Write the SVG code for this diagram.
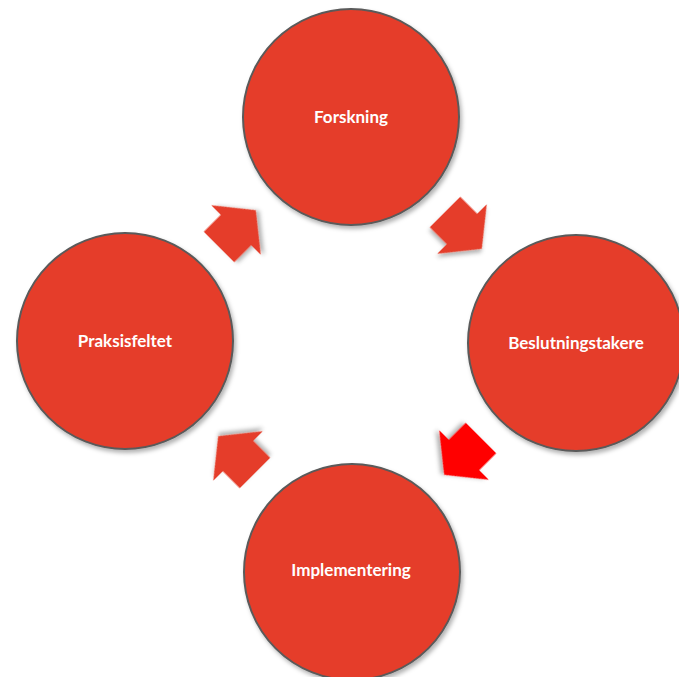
<svg xmlns="http://www.w3.org/2000/svg" width="679" height="677" viewBox="0 0 679 677">
<style>
.node{fill:#E53E2A;stroke:#5a5a5a;stroke-width:2}
.lbl{fill:#ffffff;font-family:Lato,"Open Sans","Liberation Sans",sans-serif;font-weight:bold;font-size:17px;text-anchor:middle}
.arr{fill:#E53E2A}
</style>
<defs>
<filter id="sh" x="-20%" y="-20%" width="150%" height="150%">
<feDropShadow dx="2" dy="3" stdDeviation="2" flood-color="#000" flood-opacity="0.3"/>
</filter>
<path id="ar" d="M-24,-21.5 L0,-21.5 L0,-35 L28,0 L0,35 L0,21.5 L-24,21.5 Z"/>
</defs>
<rect width="679" height="677" fill="#ffffff"/>
<g id="connectors">
<use href="#ar" class="arr" filter="url(#sh)" transform="translate(236,230) rotate(-45)"/>
<use href="#ar" class="arr" filter="url(#sh)" transform="translate(462,229) rotate(45)"/>
<use href="#ar" fill="#FF0000" filter="url(#sh)" transform="translate(464,455) rotate(135)"/>
<use href="#ar" class="arr" filter="url(#sh)" transform="translate(238,456) rotate(-135)"/>
</g>
<g id="forskning">
<circle class="node" filter="url(#sh)" cx="351" cy="117" r="108"/>
<text class="lbl" x="351" y="123">Forskning</text>
</g>
<g id="beslutningstakere">
<circle class="node" filter="url(#sh)" cx="576" cy="343" r="108"/>
<text class="lbl" x="576" y="349">Beslutningstakere</text>
</g>
<g id="implementering">
<circle class="node" filter="url(#sh)" cx="352" cy="572" r="108"/>
<text class="lbl" x="351" y="576">Implementering</text>
</g>
<g id="praksisfeltet">
<circle class="node" filter="url(#sh)" cx="125" cy="341" r="108"/>
<text class="lbl" x="125" y="347">Praksisfeltet</text>
</g>
</svg>
